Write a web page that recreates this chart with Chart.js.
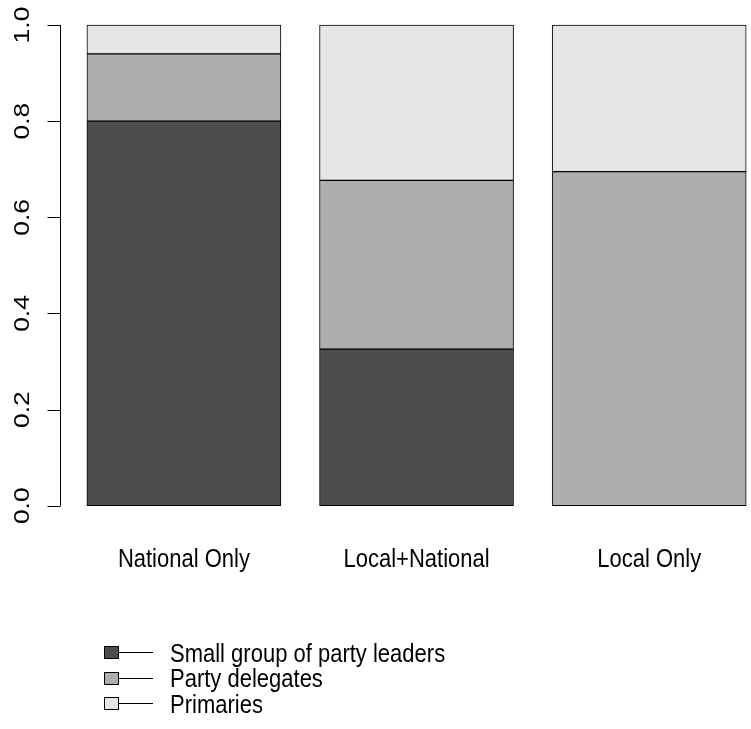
<!DOCTYPE html>
<html>
<head>
<meta charset="utf-8">
<script src="https://cdn.jsdelivr.net/npm/chart.js@4/dist/chart.umd.min.js"></script>
<style>
  html, body { margin: 0; padding: 0; background: #fff; overflow: hidden; }
  #wrap { width: 751px; height: 729px; }
</style>
</head>
<body>
<div id="wrap"><canvas id="myChart"></canvas></div>
<script>
const categories = ['National Only', 'Local+National', 'Local Only'];
const seriesNames = ['Small group of party leaders', 'Party delegates', 'Primaries'];
const leaders = [0.80, 0.326, 0];
const delegates = [0.14, 0.351, 0.695];
const primaries = [0.06, 0.323, 0.305];
const seriesColors = ['#4D4D4D', '#AEAEAE', '#E6E6E6'];
const yTicks = [0, 0.2, 0.4, 0.6, 0.8, 1.0];

const FONT = '"Liberation Sans", Arial, Helvetica, sans-serif';

// R-style axis, category names and legend, drawn from the chart's scales
const baseGraphics = {
  id: 'baseGraphics',
  afterDraw(chart) {
    const ctx = chart.ctx;
    const xs = chart.scales.x, ys = chart.scales.y;
    const ax = chart.chartArea.left;
    ctx.save();
    ctx.strokeStyle = '#000';
    ctx.fillStyle = '#000';
    ctx.lineWidth = 1;

    // y axis line + ticks
    ctx.beginPath();
    ctx.moveTo(ax, ys.getPixelForValue(yTicks[0]));
    ctx.lineTo(ax, ys.getPixelForValue(yTicks[yTicks.length - 1]));
    yTicks.forEach(v => {
      const p = Math.round(ys.getPixelForValue(v)) + 0.5;
      ctx.moveTo(ax - 13, p);
      ctx.lineTo(ax, p);
    });
    ctx.stroke();

    ctx.font = '22px ' + FONT;
    ctx.textAlign = 'center';
    ctx.textBaseline = 'alphabetic';

    // rotated tick labels
    yTicks.forEach(v => {
      const p = ys.getPixelForValue(v);
      ctx.save();
      ctx.translate(28.5, p);
      ctx.rotate(-Math.PI / 2);
      ctx.scale(1.2, 1);
      ctx.fillText(v.toFixed(1), 0, 0);
      ctx.restore();
    });

    // category names
    categories.forEach((c, i) => {
      ctx.save();
      ctx.translate(xs.getPixelForValue(i), 567);
      ctx.scale(1, 1.2);
      ctx.fillText(c, 0, 0);
      ctx.restore();
    });

    // legend
    ctx.textAlign = 'left';
    chart.data.datasets.forEach((ds, i) => {
      const cy = 652 + i * 25.5;
      ctx.beginPath();
      ctx.moveTo(119, Math.round(cy) + 0.5);
      ctx.lineTo(153, Math.round(cy) + 0.5);
      ctx.stroke();
      ctx.fillStyle = ds.backgroundColor;
      ctx.fillRect(104.5, Math.round(cy) - 6, 14, 13);
      ctx.strokeRect(104.5, Math.round(cy) - 6 + 0.5, 14, 12);
      ctx.fillStyle = '#000';
      ctx.save();
      ctx.translate(170, cy + 9.5);
      ctx.scale(1, 1.2);
      ctx.fillText(ds.label, 0, 0);
      ctx.restore();
    });
    ctx.restore();
  }
};

const seriesValues = [leaders, delegates, primaries];

new Chart(document.getElementById('myChart'), {
  type: 'bar',
  data: {
    datasets: seriesValues.map((vals, k) => ({
      label: seriesNames[k],
      data: vals.map((v, i) => ({ x: i, y: v })),
      backgroundColor: seriesColors[k],
      borderColor: '#000',
      borderWidth: 1,
      borderSkipped: false,
      barThickness: 194
    }))
  },
  options: {
    responsive: true,
    maintainAspectRatio: false,
    animation: false,
    layout: { padding: { left: 60.5, right: 0, top: 5.8, bottom: 204 } },
    plugins: { legend: { display: false }, tooltip: { enabled: false } },
    scales: {
      x: { type: 'linear', stacked: true, offset: false, display: false, min: -0.5305, max: 2.4377 },
      y: { stacked: true, display: false, min: -0.04, max: 1.04 }
    }
  },
  plugins: [baseGraphics]
});
</script>
</body>
</html>
